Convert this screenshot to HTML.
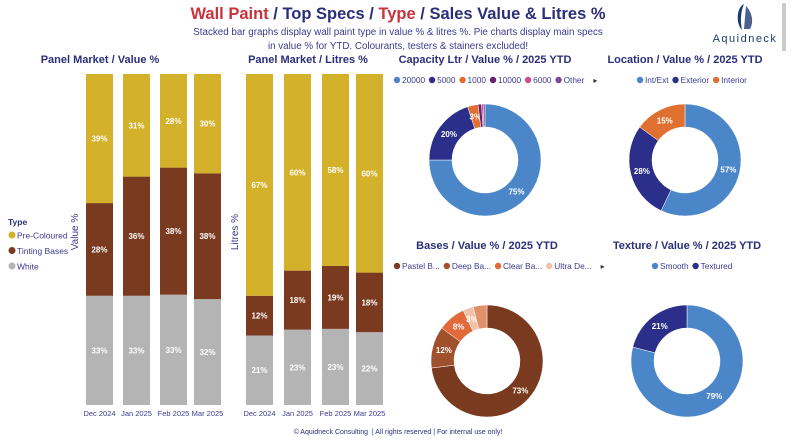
<!DOCTYPE html>
<html><head><meta charset="utf-8"><style>
body{margin:0;width:796px;height:448px;background:#fff;font-family:"Liberation Sans",sans-serif;overflow:hidden;position:relative}
.t{position:absolute;white-space:nowrap}
</style></head><body>
<div class="t" style="left:0;width:796px;text-align:center;top:5px;font-size:16.5px;font-weight:bold;color:#2b2f7a"><span style="color:#c8323c">Wall Paint</span> / Top Specs / <span style="color:#c8323c">Type</span> / Sales Value &amp; Litres %</div>
<div class="t" style="left:0;width:796px;text-align:center;top:26px;font-size:9.8px;line-height:14px;color:#3b3b8f">Stacked bar graphs display wall paint type in value % &amp; litres %. Pie charts display main specs<br>in value % for YTD. Colourants, testers &amp; stainers excluded!</div>
<div class="t" style="left:700px;top:2px;width:90px;text-align:center">
<svg width="30" height="30" viewBox="0 0 30 30"><path d="M14 2 C6 6 6 22 12 28 C10 18 11 9 14 2Z" fill="#1f3a73"/><path d="M16 4 C22 10 24 20 20 27 L14 27 Z" fill="#1f3a73" opacity=".8"/></svg>
<div style="font-size:11px;letter-spacing:1.5px;color:#1f3a73;margin-top:-4px">Aquidneck</div></div>
<div style="position:absolute;left:782px;top:3px;width:4px;height:48px;background:#ccc"></div>
<svg id="c" width="796" height="448" style="position:absolute;left:0;top:0" font-family="Liberation Sans, sans-serif"></svg>
<div class="t" style="left:0;width:796px;text-align:center;top:429px;font-size:7px;color:#2b2f7a">© Aquidneck Consulting &nbsp;| All rights reserved | For internal use only!</div>
<script>
const months=["Dec 2024","Jan 2025","Feb 2025","Mar 2025"];
const valWhite=[33,33,33,32], valTint=[28,36,38,38], valPre=[39,31,28,30];
const litWhite=[21,23,23,22], litTint=[12,18,19,18], litPre=[67,60,58,60];
const capLabels=["20000","5000","1000","10000","6000","Other"], capVals=[75,20,3,1,0.5,0.5];
const locLabels=["Int/Ext","Exterior","Interior"], locVals=[57,28,15];
const baseLabels=["Pastel B...","Deep Ba...","Clear Ba...","Ultra De..."], baseVals=[73,12,8,3,4];
const texLabels=["Smooth","Textured"], texVals=[79,21];
const svg=document.getElementById('c');const NS="http://www.w3.org/2000/svg";
function mk(t,a,p){const e=document.createElementNS(NS,t);for(const k in a)e.setAttribute(k,a[k]);(p||svg).appendChild(e);return e;}
function txt(x,y,s,a){const e=mk('text',Object.assign({x:x,y:y},a));e.textContent=s;return e;}
const YEL="#d4b12a",BRN="#7a3a1f",GRY="#b4b4b4",BLU="#4a86c8",NAV="#2b2f8a",ORG="#e07030";
function stack(xs,w,name,title,tx,ytitle,yx,W,T,P){
  txt(tx,63,title,{'font-size':11,'font-weight':'bold',fill:'#2b2f7a','text-anchor':'middle',});
  const t=txt(yx,232,ytitle,{'font-size':10,fill:'#3b3b8f','text-anchor':'middle',transform:`rotate(-90 ${yx} 232)`});
  
  const top=74,bot=405,H=bot-top;
  months.forEach((m,i)=>{const tot=W[i]+T[i]+P[i];const y=v=>H*v/tot;let yb=bot;[[W[i],GRY],[T[i],BRN],[P[i],YEL]].forEach((s,j)=>{const h=y(s[0]);
    const r=mk('rect',{x:xs[i],y:yb-h,width:w,height:h,fill:s[1]});
    
    txt(xs[i]+w/2,yb-h/2+3,s[0]+'%',{'font-size':8,'font-weight':'bold',fill:'#fff','text-anchor':'middle'});yb-=h;});
    const l=txt(xs[i]+w/2,416,m,{'font-size':7.5,fill:'#3b3b8f','text-anchor':'middle'});});
}
stack([86,123,160,194],27,'value','Panel Market / Value %',100,'Value %',78,valWhite,valTint,valPre);
stack([246,284,322,356],27,'litres','Panel Market / Litres %',308,'Litres %',238,litWhite,litTint,litPre);
txt(8,225,'Type',{'font-size':8.5,'font-weight':'bold',fill:'#2b2f7a'});
[['Pre-Coloured',YEL],['Tinting Bases',BRN],['White',GRY]].forEach((e,i)=>{const c=mk('circle',{cx:12,cy:235+i*15.5,r:3.5,fill:e[1]});txt(17,238.5+i*15.5,e[0],{'font-size':8.5,fill:'#3b3b8f'});});
function donut(cx,cy,R,r,vals,cols,labels,name,title,tY,legX,arrow){
  txt(cx,tY,title,{'font-size':11,'font-weight':'bold',fill:'#2b2f7a','text-anchor':'middle',});
  let lx=legX;labels.forEach((l,i)=>{const c=mk('circle',{cx:lx,cy:tY+17,r:3.2,fill:cols[i]});const t=txt(lx+5,tY+20,l,{'font-size':8.3,fill:'#3b3b8f'});lx+=t.getComputedTextLength()+12;});
  if(arrow)txt(lx+2,tY+20,'▸',{'font-size':8,fill:'#333'});
  const tot=vals.reduce((a,b)=>a+b,0);let a0=-Math.PI/2;
  vals.forEach((v,i)=>{const a1=a0+2*Math.PI*v/tot;const lg=(a1-a0)>Math.PI?1:0;
    const p=(a,rr)=>[cx+rr*Math.cos(a),cy+rr*Math.sin(a)];const [x1,y1]=p(a0,R),[x2,y2]=p(a1,R),[x3,y3]=p(a1,r),[x4,y4]=p(a0,r);
    const s=mk('path',{d:`M${x1} ${y1}A${R} ${R} 0 ${lg} 1 ${x2} ${y2}L${x3} ${y3}A${r} ${r} 0 ${lg} 0 ${x4} ${y4}Z`,fill:cols[i],stroke:'#fff','stroke-width':0.5});
    
    if(v>=3&&i<labels.length){const [tx,ty]=p((a0+a1)/2,(R+r)/2);txt(tx,ty+3,Math.round(v)+'%',{'font-size':8,'font-weight':'bold',fill:'#fff','text-anchor':'middle'});}
    a0=a1;});
}
donut(485,160,56,33,capVals,[BLU,NAV,ORG,"#6a1f6a","#d04a8a","#7a4a9a"],capLabels,'capacity','Capacity Ltr / Value % / 2025 YTD',63,397,true);
donut(685,160,56,33,locVals,[BLU,NAV,ORG],locLabels,'location','Location / Value % / 2025 YTD',63,640,false);
donut(487,361,56,33,baseVals,[BRN,"#a0502a","#e06a3a","#f2c2a8","#e0906a"],baseLabels,'bases','Bases / Value % / 2025 YTD',249,397,true);
donut(687,361,56,33,texVals,[BLU,NAV],texLabels,'texture','Texture / Value % / 2025 YTD',249,655,false);
</script></body></html>
